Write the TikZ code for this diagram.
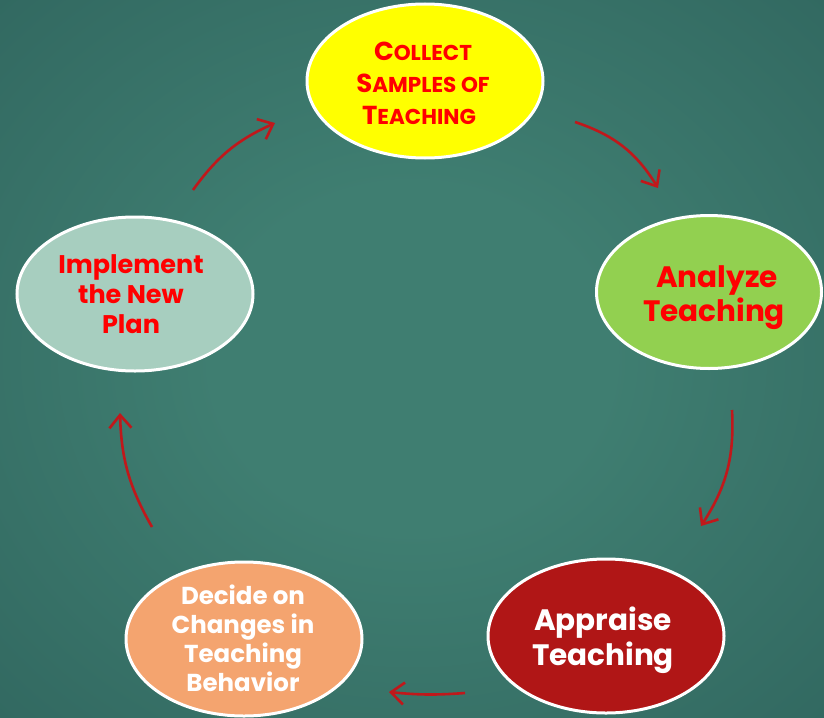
\documentclass[tikz,border=0pt]{standalone}
\usepackage{fontspec}
\setmainfont{Poppins}
\usetikzlibrary{arrows.meta,shapes.geometric}
\definecolor{bginner}{HTML}{3F7E71}
\definecolor{bgouter}{HTML}{2A5C57}
\definecolor{cyellow}{HTML}{FFFF00}
\definecolor{cgreen}{HTML}{92D050}
\definecolor{cdred}{HTML}{B01616}
\definecolor{corange}{HTML}{F4A46F}
\definecolor{cteal}{HTML}{A7CEBF}
\definecolor{txtred}{HTML}{FF0000}
\definecolor{arrred}{HTML}{C0181B}
\pgfdeclareradialshading{bgshade}{\pgfpoint{0bp}{0bp}}{color(0bp)=(bginner); color(12bp)=(bginner); color(50bp)=(bgouter); color(70bp)=(bgouter)}
\begin{document}
\begin{tikzpicture}[x=1pt,y=-1pt,
  stage/.style={ellipse, draw=white, line width=3pt, minimum width=236pt, minimum height=154pt, inner sep=0pt},
  lbl/.style={align=center, inner sep=0pt, font=\bfseries},
  cyc/.style={draw=arrred, line width=2.6pt, -{Straight Barb[length=13pt,width=22pt,line width=2.6pt]}}]
\shade[shading=bgshade] (0,0) rectangle (824,717);
\useasboundingbox (0,0) rectangle (824,717);

\node[stage, fill=cyellow] (collect) at (425,81) {};
\node[stage, fill=cgreen, minimum width=225pt, minimum height=153pt] (analyze) at (709,292) {};
\node[stage, fill=cdred] (appraise) at (606,636) {};
\node[stage, fill=corange] (decide) at (244,639) {};
\node[stage, fill=cteal] (implement) at (135,294) {};

\node[lbl, text=txtred, font=\bfseries\fontsize{21.5}{32}\selectfont] (collectT) at (423,83)
  {{\fontsize{26}{32}\selectfont C}OLLECT\\{\fontsize{26}{32}\selectfont S}AMPLES OF\\{\fontsize{26}{32}\selectfont T}EACHING\hspace*{8pt}};
\node[lbl, text=txtred, font=\bfseries\fontsize{29.5}{34}\selectfont] (analyzeT) at (714,298)
  {\hspace*{6pt}Analyze\\Teaching};
\node[lbl, text=white, font=\bfseries\fontsize{29.5}{35}\selectfont] (appraiseT) at (603,640)
  {Appraise\\Teaching};
\node[lbl, text=white, font=\bfseries\fontsize{24.5}{29}\selectfont] (decideT) at (243,638)
  {Decide on\\Changes in\\Teaching\\Behavior};
\node[lbl, text=txtred, font=\bfseries\fontsize{25.5}{30}\selectfont] (implementT) at (131,294)
  {Implement\\the New\\Plan};

\coordinate (a1s) at (193,190); \coordinate (a1e) at (275,123);
\coordinate (a2s) at (575,122); \coordinate (a2e) at (658,188);
\coordinate (a3s) at (732,410); \coordinate (a3e) at (701,526);
\coordinate (a4s) at (465,693); \coordinate (a4e) at (389,692);
\coordinate (a5s) at (152,527); \coordinate (a5e) at (120,413);

\draw[cyc] (a1s) to[bend left=15] (a1e);
\draw[cyc] (a2s) to[bend left=20] (a2e);
\draw[cyc] (a3s) to[bend left=18] (a3e);
\draw[cyc] (a4s) to[bend left=5] (a4e);
\draw[cyc] (a5s) to[bend left=14] (a5e);
\end{tikzpicture}
\end{document}
